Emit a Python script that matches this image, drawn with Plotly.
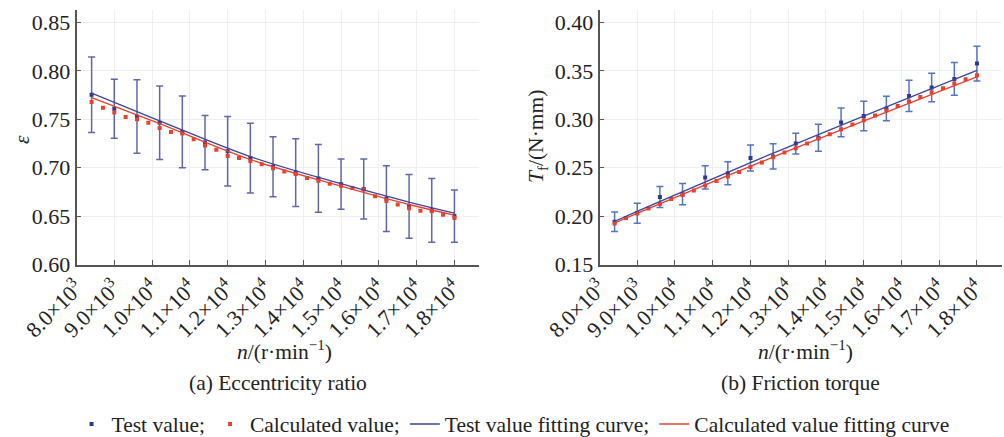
import plotly.graph_objects as go

W, H = 1004, 437

# ---------------- data ----------------
n_test = [8400, 9000, 9600, 10200, 10800, 11400, 12000, 12600, 13200, 13800,
          14400, 15000, 15600, 16200, 16800, 17400, 18000]
n_calc = [8400 + 300 * i for i in range(33)]

eps_test = [0.7755, 0.761, 0.753, 0.7465, 0.737, 0.726, 0.717, 0.710, 0.701, 0.695,
            0.689, 0.683, 0.678, 0.668, 0.660, 0.656, 0.650]
eps_err = [0.039, 0.0305, 0.038, 0.038, 0.037, 0.028, 0.036, 0.036, 0.031, 0.035,
           0.035, 0.026, 0.031, 0.034, 0.033, 0.033, 0.027]
eps_calc = [0.768, 0.762, 0.757, 0.7525, 0.750, 0.7465, 0.741, 0.737, 0.7355, 0.7295,
            0.723, 0.7185, 0.712, 0.710, 0.707, 0.7035, 0.6995, 0.696, 0.6935, 0.6895,
            0.6865, 0.6835, 0.6815, 0.679, 0.6775, 0.6705, 0.6655, 0.662, 0.658, 0.6555,
            0.655, 0.6515, 0.648]
fit_n_eps = [8400, 10200, 12600, 15000, 16800, 18000]
eps_fit_test = [0.777, 0.7485, 0.7115, 0.6835, 0.6645, 0.653]
eps_fit_calc = [0.7725, 0.7455, 0.7085, 0.681, 0.662, 0.651]

tf_test = [0.1942, 0.203, 0.2198, 0.2227, 0.2400, 0.2442, 0.2600, 0.2617, 0.2750, 0.281,
           0.2968, 0.3035, 0.3112, 0.3242, 0.3329, 0.3418, 0.3576]
tf_err = [0.010, 0.0103, 0.0109, 0.011, 0.012, 0.0119, 0.0134, 0.013, 0.0107, 0.014,
          0.0148, 0.0152, 0.0126, 0.0162, 0.0147, 0.0169, 0.018]
tf_calc = [0.1924, 0.1981, 0.203, 0.2079, 0.2126, 0.2178, 0.2219, 0.2264, 0.2316, 0.2364,
           0.2409, 0.2457, 0.2508, 0.2554, 0.2609, 0.2657, 0.2701, 0.275, 0.2802, 0.2846,
           0.2898, 0.2946, 0.2991, 0.3039, 0.3091, 0.3138, 0.3184, 0.3231, 0.328, 0.3321,
           0.337, 0.3414, 0.3456]
fit_n_tf = [8400, 12600, 18000]
tf_fit_test = [0.1947, 0.2650, 0.3507]
tf_fit_calc = [0.193, 0.2610, 0.3438]

tick_vals = [8000, 9000, 10000, 11000, 12000, 13000, 14000, 15000, 16000, 17000, 18000]
tick_text = ["8.0×10<sup>3</sup>", "9.0×10<sup>3</sup>", "1.0×10<sup>4</sup>",
             "1.1×10<sup>4</sup>", "1.2×10<sup>4</sup>", "1.3×10<sup>4</sup>",
             "1.4×10<sup>4</sup>", "1.5×10<sup>4</sup>", "1.6×10<sup>4</sup>",
             "1.7×10<sup>4</sup>", "1.8×10<sup>4</sup>"]

legend_names = ["Test value;", "Calculated value;", "Test value fitting curve;",
                "Calculated value fitting curve"]

# ---------------- style ----------------
FONT = "Liberation Serif"
BLUE_M = "#2f3a8a"
BLUE_L = "#3d4699"
RED = "#e8412f"
ERR_L = "rgba(70,75,150,0.85)"
ERR_R = "rgba(55,90,185,0.85)"
TXT = "#222222"
FS = 21.5

fig = go.Figure()

def add_panel(xa, ya, xt, yt, err, xc, yc, xf, yft, yfc, errcol, show):
    fig.add_trace(go.Scatter(
        x=xt, y=yt, mode="markers", name=legend_names[0], legendgroup="a",
        showlegend=show, xaxis=xa, yaxis=ya,
        marker=dict(symbol="square", size=4, color=BLUE_M),
        error_y=dict(type="data", array=err, visible=True, color=errcol,
                     thickness=1.5, width=3.5)))
    fig.add_trace(go.Scatter(
        x=xc, y=yc, mode="markers", name=legend_names[1], legendgroup="b",
        showlegend=show, xaxis=xa, yaxis=ya,
        marker=dict(symbol="square", size=4, color=RED)))
    fig.add_trace(go.Scatter(
        x=xf, y=yft, mode="lines", name=legend_names[2], legendgroup="c",
        showlegend=show, xaxis=xa, yaxis=ya, line_shape="spline",
        line=dict(color=BLUE_L, width=1.3)))
    fig.add_trace(go.Scatter(
        x=xf, y=yfc, mode="lines", name=legend_names[3], legendgroup="d",
        showlegend=show, xaxis=xa, yaxis=ya, line_shape="spline",
        line=dict(color=RED, width=1.3)))

add_panel("x", "y", n_test, eps_test, eps_err, n_calc, eps_calc,
          fit_n_eps, eps_fit_test, eps_fit_calc, ERR_L, True)
add_panel("x2", "y2", n_test, tf_test, tf_err, n_calc, tf_calc,
          fit_n_tf, tf_fit_test, tf_fit_calc, ERR_R, False)

top_px, bot_px = 10, 264.5
ydom = [1 - bot_px / H, 1 - top_px / H]

axis_common = dict(
    showline=True, linecolor="#555555", linewidth=1.6,
    ticks="inside", ticklen=5, tickcolor="#555555", tickwidth=1.2,
    showgrid=True, gridcolor="#efefef", gridwidth=1,
    zeroline=False, mirror=False, automargin=False,
    tickfont=dict(family=FONT, size=22, color=TXT),
)

fig.update_layout(
    width=W, height=H,
    margin=dict(l=0, r=0, t=0, b=0, autoexpand=False),
    paper_bgcolor="white", plot_bgcolor="white",
    font=dict(family=FONT, size=FS, color=TXT),
    xaxis=dict(domain=[76.5 / W, 479 / W], range=[8000, 18650],
               tickvals=tick_vals, ticktext=tick_text, tickangle=-45,
               anchor="y", **axis_common),
    yaxis=dict(domain=ydom, range=[0.60, 0.863], tickvals=[0.60, 0.65, 0.70, 0.75, 0.80, 0.85],
               tickformat=".2f", anchor="x", **axis_common),
    xaxis2=dict(domain=[599.5 / W, 1001.5 / W], range=[8000, 18650],
                tickvals=tick_vals, ticktext=tick_text, tickangle=-45,
                anchor="y2", **axis_common),
    yaxis2=dict(domain=ydom, range=[0.15, 0.413], tickvals=[0.15, 0.20, 0.25, 0.30, 0.35, 0.40],
                tickformat=".2f", anchor="x2", **axis_common),
    legend=dict(orientation="h", x=0.511, xanchor="center", y=1 - 424 / H, yanchor="middle",
                font=dict(family=FONT, size=FS, color=TXT),
                itemwidth=30, tracegroupgap=0, bgcolor="rgba(0,0,0,0)"),
    showlegend=True,
)

ann = [
    dict(text="<i>n</i>/(r·min<sup>−1</sup>)", x=284 / W, y=1 - 350 / H),
    dict(text="<i>n</i>/(r·min<sup>−1</sup>)", x=805 / W, y=1 - 350 / H),
    dict(text="(a) Eccentricity ratio", x=278 / W, y=1 - 383 / H),
    dict(text="(b) Friction torque", x=800 / W, y=1 - 383 / H),
    dict(text="<i>ε</i>", x=22 / W, y=1 - 140 / H, textangle=-90),
    dict(text="<i>T</i><sub>f</sub>/(N·mm)", x=537 / W, y=1 - 137 / H, textangle=-90),
]
for a in ann:
    fig.add_annotation(xref="paper", yref="paper", showarrow=False,
                       xanchor="center", yanchor="middle",
                       font=dict(family=FONT, size=FS, color=TXT), **a)

fig.write_html("out.html", config={"displayModeBar": False},
               post_script="document.body.style.margin='0';document.body.style.overflow='hidden';")
